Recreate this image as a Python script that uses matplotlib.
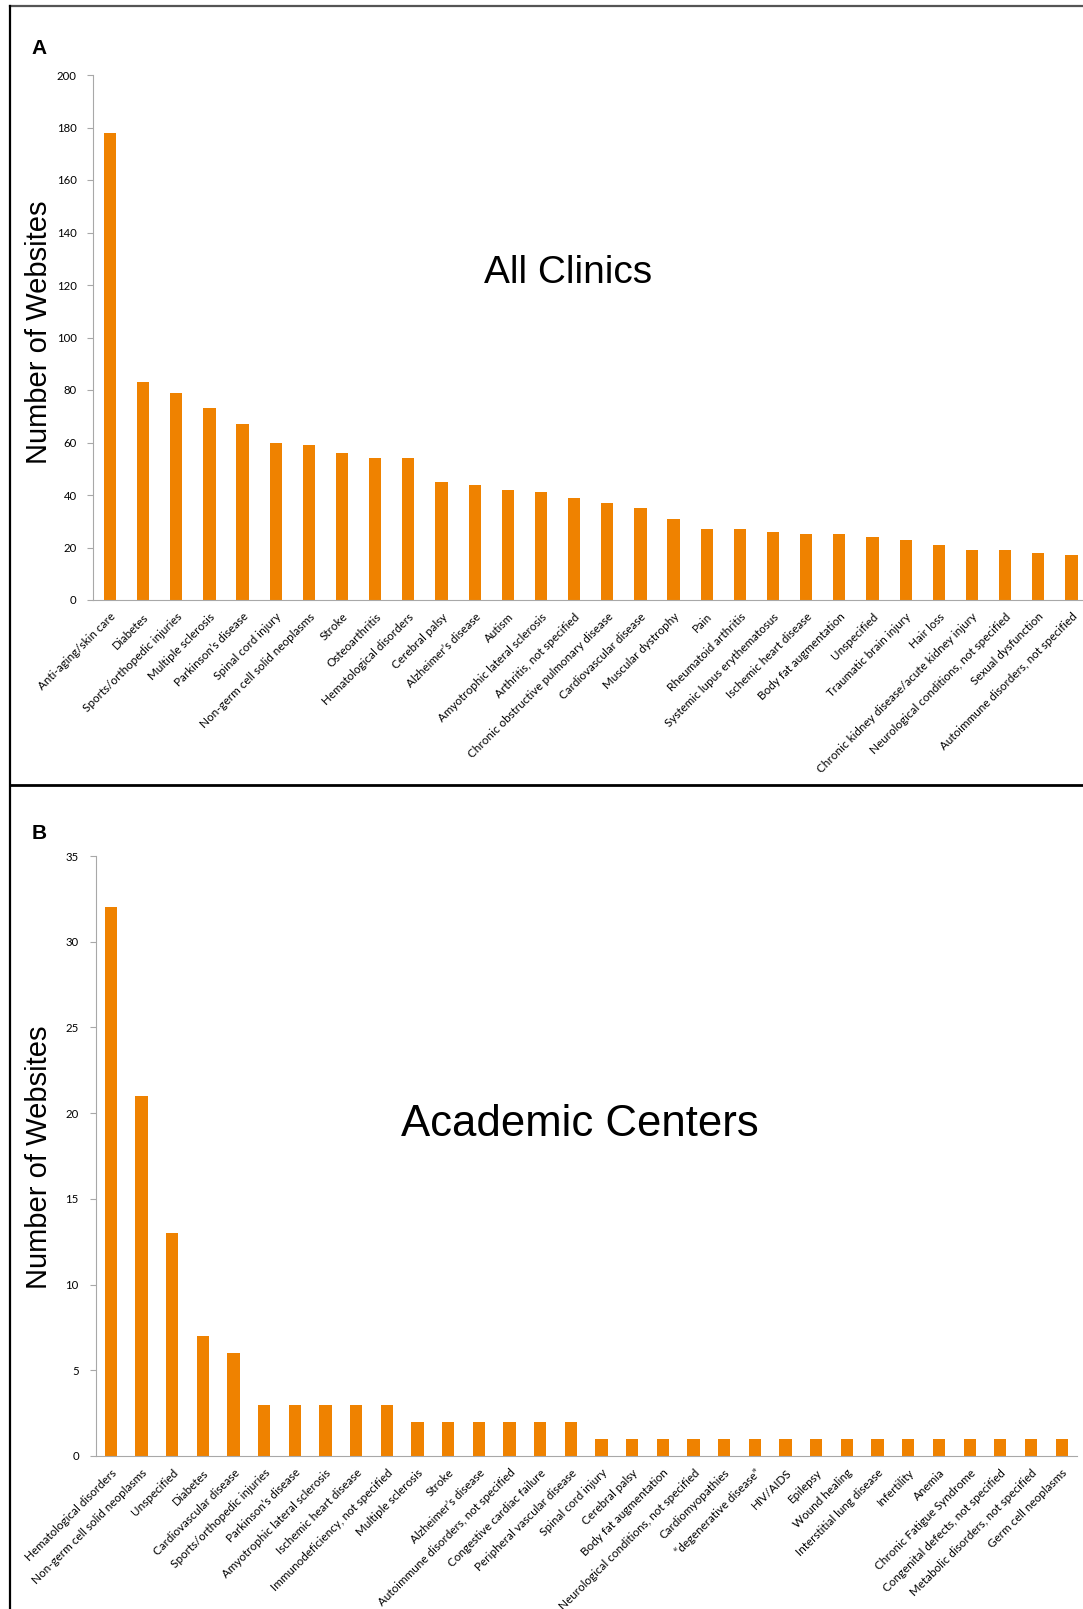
import matplotlib.pyplot as plt
from matplotlib.lines import Line2D

clinics_labels = ["Anti-aging/skin care", "Diabetes", "Sports/orthopedic injuries", "Multiple sclerosis",
                  "Parkinson\u2019s disease", "Spinal cord injury", "Non-germ cell solid neoplasms", "Stroke",
                  "Osteoarthritis", "Hematological disorders", "Cerebral palsy", "Alzheimer\u2019s disease",
                  "Autism", "Amyotrophic lateral sclerosis", "Arthritis, not specified",
                  "Chronic obstructive pulmonary disease", "Cardiovascular disease", "Muscular dystrophy",
                  "Pain", "Rheumatoid arthritis", "Systemic lupus erythematosus", "Ischemic heart disease",
                  "Body fat augmentation", "Unspecified", "Traumatic brain injury", "Hair loss",
                  "Chronic kidney disease/acute kidney injury", "Neurological conditions, not specified",
                  "Sexual dysfunction", "Autoimmune disorders, not specified"]
clinics_values = [178, 83, 79, 73, 67, 60, 59, 56, 54, 54, 45, 44, 42, 41, 39, 37, 35, 31,
                  27, 27, 26, 25, 25, 24, 23, 21, 19, 19, 18, 17]

academic_labels = ["Hematological disorders", "Non-germ cell solid neoplasms", "Unspecified", "Diabetes",
                   "Cardiovascular disease", "Sports/orthopedic injuries", "Parkinson\u2019s disease",
                   "Amyotrophic lateral sclerosis", "Ischemic heart disease", "Immunodeficiency, not specified",
                   "Multiple sclerosis", "Stroke", "Alzheimer\u2019s disease", "Autoimmune disorders, not specified",
                   "Congestive cardiac failure", "Peripheral vascular disease", "Spinal cord injury",
                   "Cerebral palsy", "Body fat augmentation", "Neurological conditions, not specified",
                   "Cardiomyopathies", "\u201cdegenerative disease\u201d", "HIV/AIDS", "Epilepsy", "Wound healing",
                   "Interstitial lung disease", "Infertility", "Anemia", "Chronic Fatigue Syndrome",
                   "Congenital defects, not specified", "Metabolic disorders, not specified", "Germ cell neoplasms"]
academic_values = [32, 21, 13, 7, 6, 3, 3, 3, 3, 3, 2, 2, 2, 2, 2, 2,
                   1, 1, 1, 1, 1, 1, 1, 1, 1, 1, 1, 1, 1, 1, 1, 1]

orange = "#EF8200"
axis_gray = "#a8a8a8"
tick_font = "Lato"
W, H = 1083, 1609

fig = plt.figure(figsize=(W / 100, H / 100), dpi=100)


def px_axes(left, top, right, bottom):
    return fig.add_axes([left / W, 1 - bottom / H, (right - left) / W, (bottom - top) / H])


def panel(ax, labels, values, ymax, ystep, width):
    x = list(range(len(values)))
    ax.bar(x, values, width=width, color=orange)
    ax.set_xlim(-0.5, len(values) - 0.5)
    ax.set_ylim(0, ymax)
    ax.set_yticks(range(0, ymax + 1, ystep))
    ax.set_xticks(x)
    ax.set_xticklabels(labels, rotation=45, ha="right", rotation_mode="anchor",
                       fontsize=8.4, family=tick_font)
    for t in ax.get_yticklabels():
        t.set_fontsize(8.2)
        t.set_family(tick_font)
    ax.spines["top"].set_visible(False)
    ax.spines["right"].set_visible(False)
    ax.spines["left"].set_color(axis_gray)
    ax.spines["bottom"].set_color(axis_gray)
    ax.tick_params(axis="x", length=0, pad=8)
    ax.tick_params(axis="y", length=4, color=axis_gray, pad=8)


axA = px_axes(93.4, 75, 1088, 600)
panel(axA, clinics_labels, clinics_values, 200, 20, 0.37)
axB = px_axes(95.5, 856, 1077, 1456)
panel(axB, academic_labels, academic_values, 35, 5, 0.40)

fig.text(568 / W, 1 - 273 / H, "All Clinics", fontsize=28, family="Liberation Sans", ha="center", va="center")
fig.text(580 / W, 1 - 1125 / H, "Academic Centers", fontsize=31.5, family="Liberation Sans", ha="center", va="center")
fig.text(39 / W, 1 - 332 / H, "Number of Websites", fontsize=21, family="Liberation Sans",
         rotation=90, ha="center", va="center")
fig.text(39 / W, 1 - 1157 / H, "Number of Websites", fontsize=21, family="Liberation Sans",
         rotation=90, ha="center", va="center")
fig.text(39 / W, 1 - 48 / H, "A", fontsize=15, fontweight="bold", family="Liberation Sans", ha="center", va="center")
fig.text(39 / W, 1 - 834 / H, "B", fontsize=15, fontweight="bold", family="Liberation Sans", ha="center", va="center")

# frame lines
fig.add_artist(Line2D([10 / W, 1], [1 - 6 / H, 1 - 6 / H], color="#555555", lw=1.6))
fig.add_artist(Line2D([10 / W, 10 / W], [0, 1 - 6 / H], color="black", lw=1.6))
fig.add_artist(Line2D([10 / W, 1], [1 - 785 / H, 1 - 785 / H], color="black", lw=2))

fig.savefig("out.png", dpi=100)
